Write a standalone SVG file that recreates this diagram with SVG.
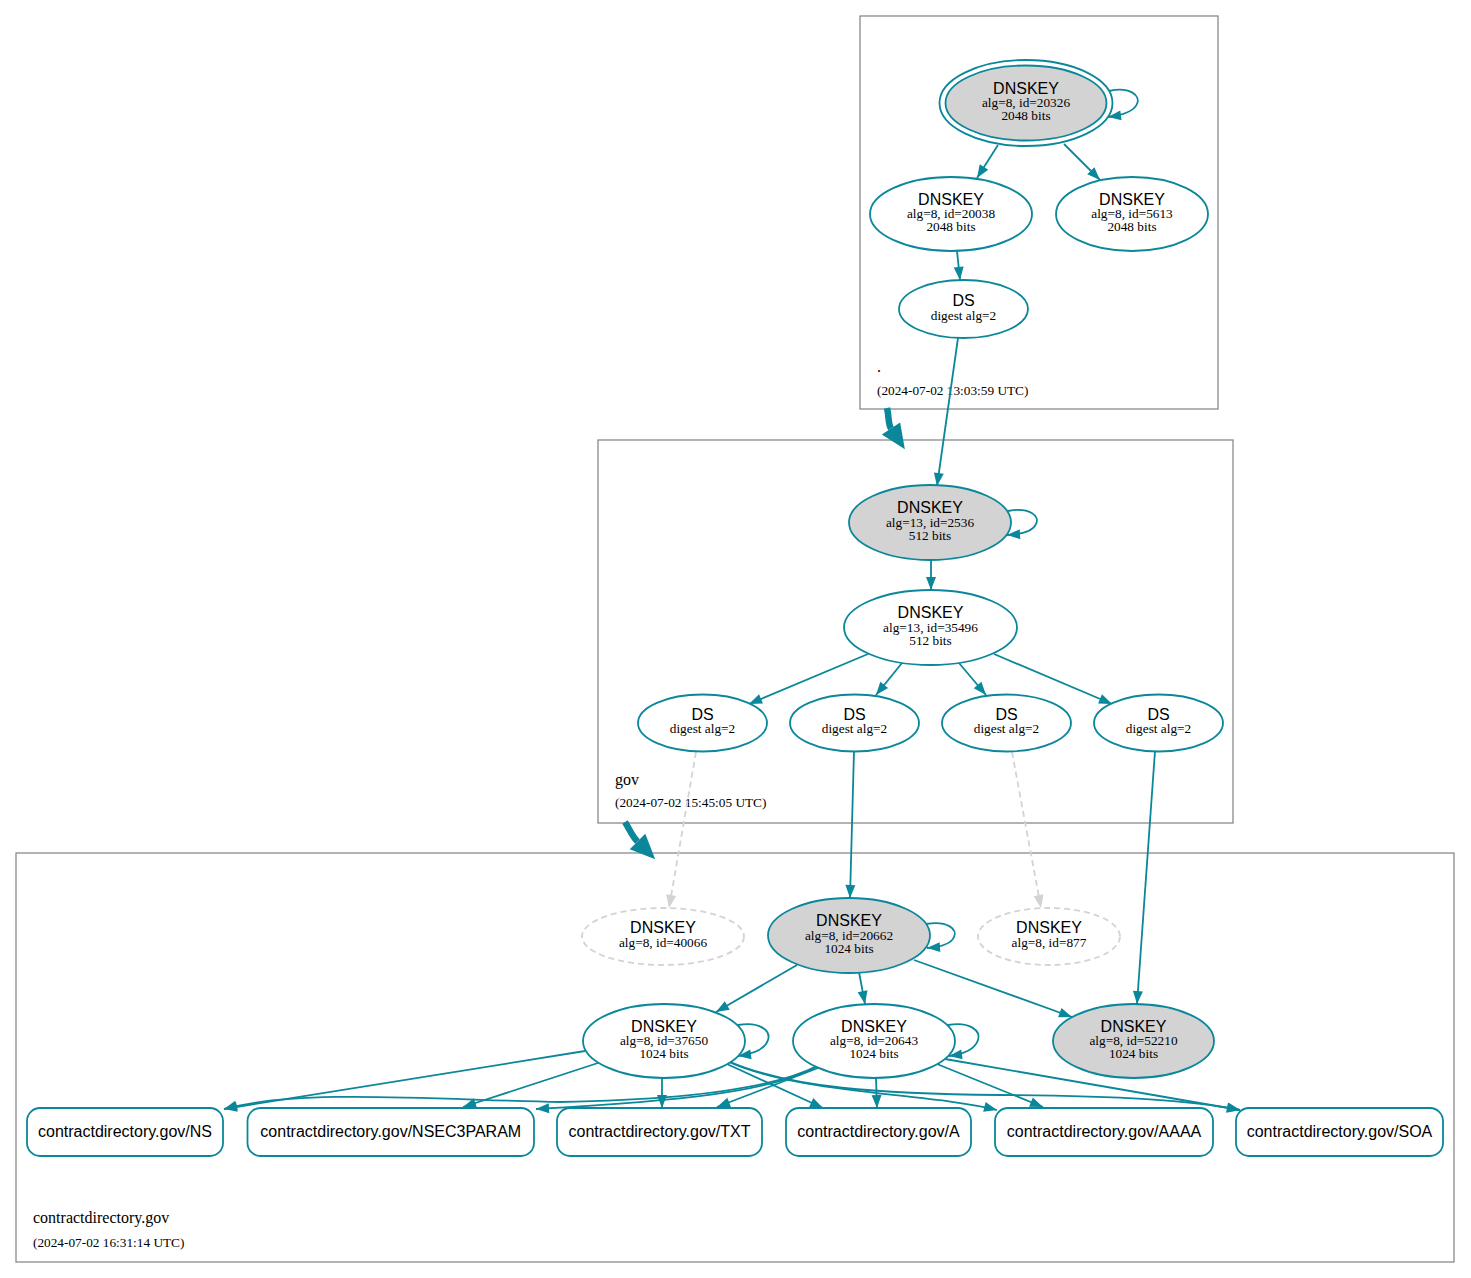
<svg xmlns="http://www.w3.org/2000/svg" width="1471" height="1278" viewBox="0 0 1471 1278">
<style>
.cl{fill:none;stroke:#808080;stroke-width:1.2}
.n{fill:#fff;stroke:#0a879a;stroke-width:1.8}
.k{fill:#d3d3d3;stroke:#0a879a;stroke-width:1.8}
.d{fill:#fff;stroke:#d3d3d3;stroke-width:1.8;stroke-dasharray:6,4}
.e{fill:none;stroke:#0a879a;stroke-width:1.8;marker-end:url(#ah)}
.g{fill:none;stroke:#d3d3d3;stroke-width:1.8;stroke-dasharray:6,4;marker-end:url(#ag)}
.t{fill:none;stroke:#0a879a;stroke-width:6.5;marker-end:url(#at)}
.h{font-family:"Liberation Sans",Arial,sans-serif;font-size:16px;text-anchor:middle;fill:#000}
.s{font-family:"Liberation Serif","Times New Roman",serif;font-size:13.3px;text-anchor:middle;fill:#000}
.z{font-family:"Liberation Serif","Times New Roman",serif;font-size:16px;fill:#000}
.zd{font-family:"Liberation Serif","Times New Roman",serif;font-size:13.3px;fill:#000}
</style>
<defs>
<marker id="ah" markerUnits="userSpaceOnUse" markerWidth="13" markerHeight="10" refX="13" refY="5" orient="auto" overflow="visible"><path d="M0,0 L13,5 L0,10 z" fill="#0a879a"/></marker>
<marker id="ag" markerUnits="userSpaceOnUse" markerWidth="13" markerHeight="10" refX="13" refY="5" orient="auto" overflow="visible"><path d="M0,0 L13,5 L0,10 z" fill="#d3d3d3"/></marker>
<marker id="at" markerUnits="userSpaceOnUse" markerWidth="25" markerHeight="22" refX="0" refY="11" orient="auto" overflow="visible"><path d="M0,0 L25,11 L0,22 z" fill="#0a879a"/></marker>
</defs>
<rect width="1471" height="1278" fill="#fff"/>

<g id="clusters">
<g id="zone-root">
<rect class="cl" x="860" y="16" width="358" height="393"/>
<text class="z" x="877" y="372">.</text>
<text class="zd" x="877" y="395">(2024-07-02 13:03:59 UTC)</text>
</g>
<g id="zone-gov">
<rect class="cl" x="598" y="440" width="635" height="383"/>
<text class="z" x="615" y="785">gov</text>
<text class="zd" x="615" y="807">(2024-07-02 15:45:05 UTC)</text>
</g>
<g id="zone-cd">
<rect class="cl" x="16" y="853" width="1438" height="409"/>
<text class="z" x="33" y="1223">contractdirectory.gov</text>
<text class="zd" x="33" y="1247">(2024-07-02 16:31:14 UTC)</text>
</g>
</g>

<g id="connectors">
<path class="t" d="M887,408 C889,416 888,424 891,428.5"/>
<path class="t" d="M625,822 C630,830 632,836 637.5,841.5"/>
<path class="e" d="M1109,91 C1130,86 1141,96 1137,104 C1134,111 1124,115 1108,117"/>
<path class="e" d="M998,145 L977,178"/>
<path class="e" d="M1064,144 L1100,180"/>
<path class="e" d="M957,251 L960,280"/>
<path class="e" d="M958,338 L937,486"/>
<path class="e" d="M1008,511 C1030,507 1040,516 1036,524 C1033,531 1024,534 1007,535"/>
<path class="e" d="M931,560 L931,590"/>
<path class="e" d="M868,654 L749,704"/>
<path class="e" d="M902,663 L876,695"/>
<path class="e" d="M959,663 L986,695"/>
<path class="e" d="M994,654 L1112,704"/>
<path class="g" d="M696,752 L669,908"/>
<path class="e" d="M854,751 L850,898"/>
<path class="g" d="M1012,752 L1041,908"/>
<path class="e" d="M1155,751 L1137,1004"/>
<path class="e" d="M926,924 C948,920 958,930 954,937 C951,944 942,947 927,948"/>
<path class="e" d="M797,965 L716,1012"/>
<path class="e" d="M859,972 L865,1004"/>
<path class="e" d="M914,960 L1072,1017"/>
<path class="e" d="M738,1025 C760,1021 771,1031 768,1040 C765,1049 754,1054 738,1056"/>
<path class="e" d="M948,1025 C970,1021 981,1031 978,1040 C975,1049 965,1054 949,1056"/>
<path class="e" d="M585,1051 L224,1109"/>
<path class="e" d="M598,1063 L463,1107"/>
<path class="e" d="M662,1078 L662,1108"/>
<path class="e" d="M727,1064 L823,1108"/>
<path class="e" d="M729,1062 C800,1094 930,1093 997,1110"/>
<path class="e" d="M728,1061 C790,1088 880,1094 1000,1095 C1120,1096 1190,1100 1240,1110"/>
<path class="e" d="M817,1066 C770,1090 680,1100 560,1102 C440,1100 300,1088 224,1109"/>
<path class="e" d="M816,1067 C770,1092 680,1101 536,1109"/>
<path class="e" d="M818,1068 L717,1107"/>
<path class="e" d="M876,1078 L877,1108"/>
<path class="e" d="M937,1064 L1043,1107"/>
<path class="e" d="M945,1059 L1240,1110"/>
</g>

<g id="dnskey-20326">
<ellipse class="n" cx="1026" cy="103" rx="86.5" ry="43"/>
<ellipse class="k" cx="1026" cy="103" rx="80.5" ry="37.5"/>
<text class="h" x="1026" y="93.5">DNSKEY</text>
<text class="s" x="1026" y="107">alg=8, id=20326</text>
<text class="s" x="1026" y="120">2048 bits</text>
</g>
<g id="dnskey-20038">
<ellipse class="n" cx="951" cy="214" rx="81" ry="37"/>
<text class="h" x="951" y="204.5">DNSKEY</text>
<text class="s" x="951" y="218">alg=8, id=20038</text>
<text class="s" x="951" y="231">2048 bits</text>
</g>
<g id="dnskey-5613">
<ellipse class="n" cx="1132" cy="214" rx="76" ry="37"/>
<text class="h" x="1132" y="204.5">DNSKEY</text>
<text class="s" x="1132" y="218">alg=8, id=5613</text>
<text class="s" x="1132" y="231">2048 bits</text>
</g>
<g id="ds-root">
<ellipse class="n" cx="963.5" cy="309" rx="64.5" ry="29"/>
<text class="h" x="963.5" y="306">DS</text>
<text class="s" x="963.5" y="320">digest alg=2</text>
</g>

<g id="dnskey-2536">
<ellipse class="k" cx="930" cy="522.5" rx="81" ry="37.5"/>
<text class="h" x="930" y="513">DNSKEY</text>
<text class="s" x="930" y="526.5">alg=13, id=2536</text>
<text class="s" x="930" y="539.5">512 bits</text>
</g>
<g id="dnskey-35496">
<ellipse class="n" cx="930.5" cy="627.5" rx="86.5" ry="37.5"/>
<text class="h" x="930.5" y="618">DNSKEY</text>
<text class="s" x="930.5" y="631.5">alg=13, id=35496</text>
<text class="s" x="930.5" y="644.5">512 bits</text>
</g>
<g id="ds-gov-1">
<ellipse class="n" cx="702.5" cy="723" rx="64.5" ry="28.5"/>
<text class="h" x="702.5" y="720">DS</text>
<text class="s" x="702.5" y="733">digest alg=2</text>
</g>
<g id="ds-gov-2">
<ellipse class="n" cx="854.5" cy="723" rx="64.5" ry="28.5"/>
<text class="h" x="854.5" y="720">DS</text>
<text class="s" x="854.5" y="733">digest alg=2</text>
</g>
<g id="ds-gov-3">
<ellipse class="n" cx="1006.5" cy="723" rx="64.5" ry="28.5"/>
<text class="h" x="1006.5" y="720">DS</text>
<text class="s" x="1006.5" y="733">digest alg=2</text>
</g>
<g id="ds-gov-4">
<ellipse class="n" cx="1158.5" cy="723" rx="64.5" ry="28.5"/>
<text class="h" x="1158.5" y="720">DS</text>
<text class="s" x="1158.5" y="733">digest alg=2</text>
</g>

<g id="dnskey-40066">
<ellipse class="d" cx="663" cy="936.5" rx="81" ry="28.5"/>
<text class="h" x="663" y="933">DNSKEY</text>
<text class="s" x="663" y="946.5">alg=8, id=40066</text>
</g>
<g id="dnskey-20662">
<ellipse class="k" cx="849" cy="935.5" rx="81" ry="37.5"/>
<text class="h" x="849" y="926">DNSKEY</text>
<text class="s" x="849" y="939.5">alg=8, id=20662</text>
<text class="s" x="849" y="952.5">1024 bits</text>
</g>
<g id="dnskey-877">
<ellipse class="d" cx="1049" cy="936.5" rx="71" ry="28.5"/>
<text class="h" x="1049" y="933">DNSKEY</text>
<text class="s" x="1049" y="946.5">alg=8, id=877</text>
</g>
<g id="dnskey-37650">
<ellipse class="n" cx="664" cy="1041" rx="81" ry="37"/>
<text class="h" x="664" y="1031.5">DNSKEY</text>
<text class="s" x="664" y="1045">alg=8, id=37650</text>
<text class="s" x="664" y="1058">1024 bits</text>
</g>
<g id="dnskey-20643">
<ellipse class="n" cx="874" cy="1041" rx="81" ry="37"/>
<text class="h" x="874" y="1031.5">DNSKEY</text>
<text class="s" x="874" y="1045">alg=8, id=20643</text>
<text class="s" x="874" y="1058">1024 bits</text>
</g>
<g id="dnskey-52210">
<ellipse class="k" cx="1133.5" cy="1041" rx="80.5" ry="37"/>
<text class="h" x="1133.5" y="1031.5">DNSKEY</text>
<text class="s" x="1133.5" y="1045">alg=8, id=52210</text>
<text class="s" x="1133.5" y="1058">1024 bits</text>
</g>

<g id="rr-ns">
<rect class="n" x="27" y="1108" width="196" height="48" rx="13"/>
<text class="h" x="125" y="1137">contractdirectory.gov/NS</text>
</g>
<g id="rr-nsec3param">
<rect class="n" x="247.5" y="1108" width="286.5" height="48" rx="13"/>
<text class="h" x="390.75" y="1137">contractdirectory.gov/NSEC3PARAM</text>
</g>
<g id="rr-txt">
<rect class="n" x="557" y="1108" width="205" height="48" rx="13"/>
<text class="h" x="659.5" y="1137">contractdirectory.gov/TXT</text>
</g>
<g id="rr-a">
<rect class="n" x="786" y="1108" width="185" height="48" rx="13"/>
<text class="h" x="878.5" y="1137">contractdirectory.gov/A</text>
</g>
<g id="rr-aaaa">
<rect class="n" x="995" y="1108" width="218" height="48" rx="13"/>
<text class="h" x="1104" y="1137">contractdirectory.gov/AAAA</text>
</g>
<g id="rr-soa">
<rect class="n" x="1236" y="1108" width="207" height="48" rx="13"/>
<text class="h" x="1339.5" y="1137">contractdirectory.gov/SOA</text>
</g>
</svg>
